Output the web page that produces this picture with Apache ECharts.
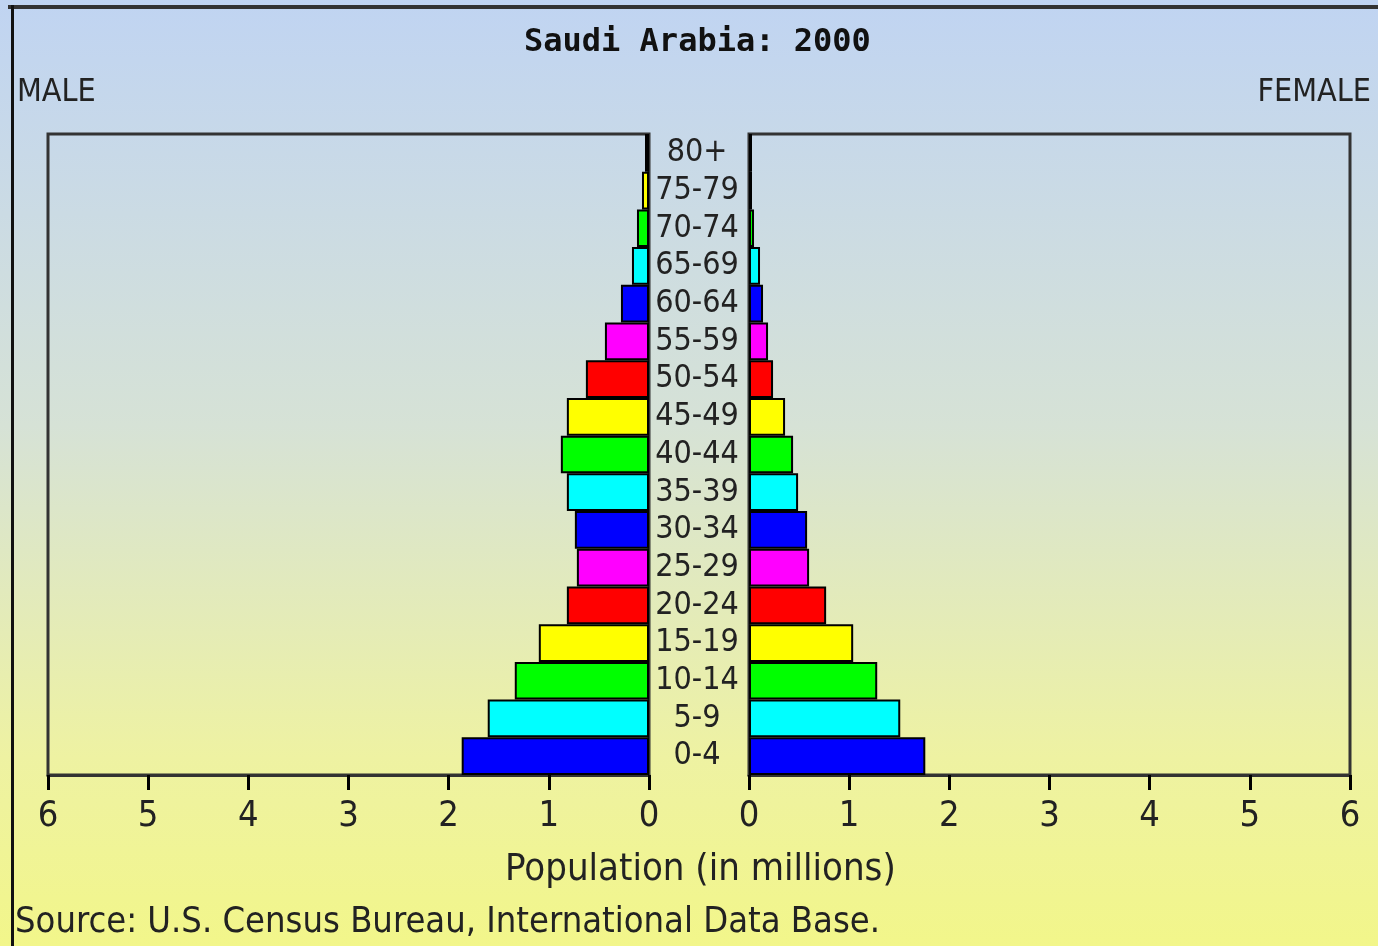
<!DOCTYPE html>
<html lang="en">

<head>
    <meta charset="UTF-8">
    <title>Saudi Arabia: 2000</title>
    <style>
        html, body {
            margin: 0;
            padding: 0;
        }

        .content {
            width: 1378px;
            height: 946px;
            background: linear-gradient(to bottom, #c0d4f2 0%, #d6e2d6 45%, #eef2a2 80%, #f2f68a 100%);
        }
    </style>
</head>

<body>
    <div id="chart" class="content"></div>
    <script src="https://cdn.jsdelivr.net/npm/echarts@6/dist/echarts.min.js"></script>
    <script>
        var ageGroups = ['0-4', '5-9', '10-14', '15-19', '20-24', '25-29', '30-34', '35-39', '40-44',
            '45-49', '50-54', '55-59', '60-64', '65-69', '70-74', '75-79', '80+'];
        var male = [1.87, 1.61, 1.34, 1.10, 0.82, 0.72, 0.74, 0.82, 0.88, 0.82, 0.63, 0.44, 0.28, 0.17, 0.12, 0.07, 0.04];
        var female = [1.76, 1.51, 1.28, 1.04, 0.77, 0.60, 0.58, 0.49, 0.44, 0.36, 0.24, 0.19, 0.14, 0.11, 0.05, 0.03, 0.03];
        var barColors = ['#0000ff', '#00ffff', '#00ff00', '#ffff00', '#ff0000', '#ff00ff'];

        var FONT = "'Liberation Sans Narrow', 'DejaVu Sans Condensed', 'Noto Sans', sans-serif";
        var INK = '#222';

        var chart = echarts.init(document.getElementById('chart'));

        function barStyle() {
            return {
                color: function(p) {
                    return barColors[p.dataIndex % barColors.length];
                },
                borderColor: '#000',
                borderWidth: 2
            };
        }

        function valueAxis(grid, inverse) {
            return {
                type: 'value',
                gridIndex: grid,
                position: 'bottom',
                inverse: inverse,
                min: 0,
                max: 6,
                interval: 1,
                splitLine: { show: false },
                axisLine: { show: true, onZero: false, lineStyle: { color: '#333', width: 3 } },
                axisTick: { show: true, inside: false, length: 15, lineStyle: { color: '#000', width: 3 } },
                axisLabel: { color: INK, fontFamily: FONT, fontSize: 36, margin: 24 }
            };
        }

        var option = {
            backgroundColor: 'transparent',
            animation: false,
            title: [{
                text: 'Saudi Arabia: 2000',
                left: 519,
                top: 22,
                textStyle: { fontFamily: "'DejaVu Sans Mono', monospace", fontSize: 32, fontWeight: 'bold', color: '#111' }
            }, {
                text: 'MALE',
                left: 12,
                top: 72,
                textStyle: { fontFamily: FONT, fontSize: 32, fontWeight: 'normal', color: INK }
            }, {
                text: 'FEMALE',
                right: 2,
                top: 72,
                textStyle: { fontFamily: FONT, fontSize: 32, fontWeight: 'normal', color: INK }
            }, {
                text: 'Population (in millions)',
                left: 500,
                top: 846,
                textStyle: { fontFamily: FONT, fontSize: 38, fontWeight: 'normal', color: INK }
            }, {
                text: 'Source: U.S. Census Bureau, International Data Base.',
                left: 10,
                top: 900,
                textStyle: { fontFamily: FONT, fontSize: 36, fontWeight: 'normal', color: INK }
            }],
            grid: [{
                left: 48,
                right: 729,
                top: 134,
                bottom: 171,
                show: true,
                borderColor: '#333',
                borderWidth: 3,
                backgroundColor: 'transparent'
            }, {
                left: 749,
                right: 28,
                top: 134,
                bottom: 171,
                show: true,
                borderColor: '#333',
                borderWidth: 3,
                backgroundColor: 'transparent'
            }],
            xAxis: [valueAxis(0, true), valueAxis(1, false)],
            yAxis: [{
                type: 'category',
                gridIndex: 0,
                position: 'right',
                data: ageGroups,
                axisLine: { show: false },
                axisTick: { show: false },
                axisLabel: {
                    interval: 0,
                    color: INK,
                    fontFamily: FONT,
                    fontSize: 32,
                    align: 'center',
                    margin: 48
                }
            }, {
                type: 'category',
                gridIndex: 1,
                data: ageGroups,
                axisLine: { show: false },
                axisTick: { show: false },
                axisLabel: { show: false }
            }],
            series: [{
                name: 'Male',
                type: 'bar',
                xAxisIndex: 0,
                yAxisIndex: 0,
                barWidth: '100%',
                data: male,
                itemStyle: barStyle()
            }, {
                name: 'Female',
                type: 'bar',
                xAxisIndex: 1,
                yAxisIndex: 1,
                barWidth: '100%',
                data: female,
                itemStyle: barStyle()
            }],
            graphic: [{
                type: 'rect',
                shape: { x: 8, y: 5, width: 1370, height: 4 },
                style: { fill: '#333' }
            }, {
                type: 'rect',
                shape: { x: 11, y: 5, width: 3, height: 941 },
                style: { fill: '#111' }
            }]
        };

        chart.setOption(option);
    </script>
</body>

</html>
